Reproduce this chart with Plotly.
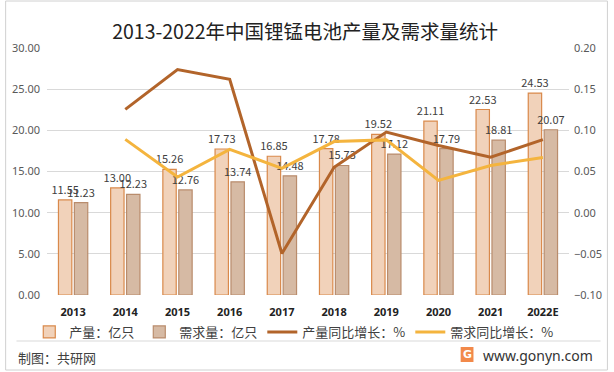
import plotly.graph_objects as go

years = ["2013", "2014", "2015", "2016", "2017", "2018", "2019", "2020", "2021", "2022E"]
production = [11.55, 13.00, 15.26, 17.73, 16.85, 17.78, 19.52, 21.11, 22.53, 24.53]
demand = [11.23, 12.23, 12.76, 13.74, 14.48, 15.73, 17.12, 17.79, 18.81, 20.07]
prod_growth = [None, 0.1255, 0.1738, 0.1620, -0.0496, 0.0552, 0.0979, 0.0815, 0.0673, 0.0888]
dem_growth = [None, 0.0890, 0.0433, 0.0768, 0.0539, 0.0863, 0.0884, 0.0391, 0.0573, 0.0670]

FONT = "Noto Sans CJK SC, Noto Sans, sans-serif"
NUMFONT = "Liberation Sans Narrow, Noto Sans, sans-serif"

fig = go.Figure()
fig.add_trace(go.Bar(
    x=years, y=production, name="产量：亿只",
    marker=dict(color="#F1D2BA", line=dict(color="#D9894B", width=1.2)),
    text=[f"{v:.2f}" for v in production], textposition="outside", constraintext="none",
    textfont=dict(size=11, color="#404040", family=FONT), cliponaxis=False,
))
fig.add_trace(go.Bar(
    x=years, y=demand, name="需求量：亿只",
    marker=dict(color="#D6BAA4", line=dict(color="#B98C6C", width=1.2)),
    text=[f"{v:.2f}" for v in demand], textposition="outside", constraintext="none",
    textfont=dict(size=11, color="#404040", family=FONT), cliponaxis=False,
))
fig.add_trace(go.Scatter(
    x=years, y=prod_growth, name="产量同比增长：%", yaxis="y2",
    mode="lines", line=dict(color="#B2642A", width=3),
))
fig.add_trace(go.Scatter(
    x=years, y=dem_growth, name="需求同比增长：%", yaxis="y2",
    mode="lines", line=dict(color="#F4B43E", width=3),
))

# paper coordinate helpers (plot area: x 43..573, y 48..295 px)
def px_x(x):
    return (x - 43) / 530.0

def px_y(y):
    return (295 - y) / 247.0

shapes = [
    dict(type="rect", xref="paper", yref="paper", x0=px_x(1), x1=px_x(612), y0=px_y(1), y1=px_y(370),
         line=dict(color="#D0D0D0", width=1), fillcolor="rgba(0,0,0,0)", layer="below"),
    dict(type="line", xref="paper", yref="paper", x0=px_x(12), x1=px_x(605), y0=px_y(341), y1=px_y(341),
         line=dict(color="#D9D9D9", width=1)),
    dict(type="rect", xref="paper", yref="paper", x0=px_x(463), x1=px_x(476), y0=px_y(347), y1=px_y(362),
         line=dict(width=0), fillcolor="#F2894A"),
]
annotations = [
    dict(text="制图：共研网", xref="paper", yref="paper", x=px_x(12), y=px_y(357),
         xanchor="left", yanchor="middle", showarrow=False,
         font=dict(size=13, color="#404040", family=FONT)),
    dict(text="<b>G</b>", xref="paper", yref="paper", x=px_x(469.5), y=px_y(354.5),
         xanchor="center", yanchor="middle", showarrow=False,
         font=dict(size=11, color="white", family="DejaVu Sans")),
    dict(text="www.gonyn.com", xref="paper", yref="paper", x=px_x(484), y=px_y(355),
         xanchor="left", yanchor="middle", showarrow=False,
         font=dict(size=14, color="#333333", family="Noto Sans, sans-serif")),
]

fig.update_layout(
    width=614, height=372,
    margin=dict(l=43, r=41, t=48, b=77),
    paper_bgcolor="white", plot_bgcolor="white",
    font=dict(family=FONT, color="#404040"),
    title=dict(text="2013-2022年中国锂锰电池产量及需求量统计", x=0.497, xanchor="center",
               y=1 - 32 / 372, yanchor="middle",
               font=dict(size=19.5, color="#222222", family=FONT)),
    barmode="group", bargap=0.39, bargroupgap=0.16,
    showlegend=True,
    legend=dict(orientation="h", x=px_x(25), xanchor="left", y=px_y(332), yanchor="middle",
                font=dict(size=13, color="#404040", family=FONT), itemwidth=30,
                traceorder="normal", bgcolor="rgba(0,0,0,0)"),
    xaxis=dict(type="category", showgrid=False, showline=False, ticks="", ticklabelstandoff=9,
               tickfont=dict(size=11, color="#222222", family="Noto Sans, sans-serif", weight="bold")),
    yaxis=dict(range=[0, 30], dtick=5, tickformat=".2f", showgrid=True, gridcolor="#D9D9D9",
               gridwidth=1, zeroline=False, showline=False, ticks="", ticklabelstandoff=6,
               tickfont=dict(size=11, color="#595959", family=NUMFONT)),
    yaxis2=dict(range=[-0.1, 0.2], dtick=0.05, tickformat=".2f", overlaying="y", side="right",
                showgrid=False, zeroline=False, showline=False, ticks="", ticklabelstandoff=4,
                tickfont=dict(size=11, color="#595959", family=NUMFONT)),
    shapes=shapes, annotations=annotations,
    hovermode=False,
)

fig.write_html("out.html", config={"displayModeBar": False},
               post_script="document.body.style.margin='0';document.body.style.overflow='hidden';")
